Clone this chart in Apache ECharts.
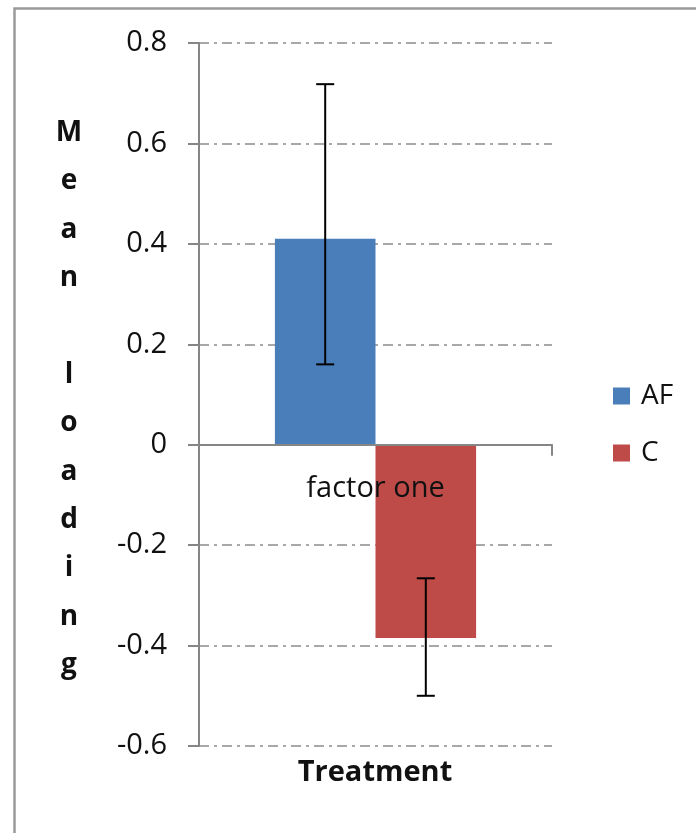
<!DOCTYPE html>
<html>
<head>
<meta charset="utf-8">
<script src="https://cdn.jsdelivr.net/npm/echarts@6/dist/echarts.min.js"></script>
<style>
html,body{margin:0;padding:0;background:#fff;}
#chart{width:696px;height:833px;}
</style>
</head>
<body>
<div id="chart"></div>
<script>
// ---- data ----
const categories = ['factor one'];
const seriesNames = ['AF', 'C'];
const afMean = [0.41];
const cMean = [-0.385];
const afLow = [0.16];
const afHigh = [0.718];
const cLow = [-0.50];
const cHigh = [-0.266];
const yMin = -0.6, yMax = 0.8, yStep = 0.2;
const xTitle = 'Treatment';
const yTitle = 'Mean loading';

const FONT = 'Open Sans';
const catGap = 0.43;

const errData = [];
categories.forEach((c, i) => {
  errData.push([i, afLow[i], afHigh[i], 0]);
  errData.push([i, cLow[i], cHigh[i], 1]);
});
const catLabelData = categories.map((c, i) => [i, 0]);

const chart = echarts.init(document.getElementById('chart'));
chart.setOption({
  animation: false,
  backgroundColor: '#fff',
  grid: { left: 199, right: 144, top: 43, bottom: 87, containLabel: false },
  legend: {
    data: seriesNames,
    orient: 'vertical',
    left: 608,
    top: 377,
    itemWidth: 17,
    itemHeight: 17,
    itemGap: 29,
    icon: 'rect',
    textStyle: { fontFamily: FONT, fontSize: 28, color: '#111', padding: [0, 0, 0, 6] }
  },
  xAxis: {
    type: 'category',
    data: categories,
    z: 5,
    axisLine: { onZero: true, lineStyle: { color: '#868686', width: 2 } },
    axisTick: { show: true, length: 11, lineStyle: { color: '#868686', width: 2 } },
    axisLabel: { show: false }
  },
  yAxis: {
    type: 'value',
    min: yMin, max: yMax, interval: yStep,
    axisLine: { show: true, lineStyle: { color: '#868686', width: 2 } },
    axisTick: { show: true, length: 11, lineStyle: { color: '#868686', width: 2 } },
    axisLabel: { margin: 32, fontFamily: FONT, fontSize: 29, color: '#111',
      formatter: v => String(Math.round(v * 10) / 10) },
    splitLine: { show: true, lineStyle: { color: '#8c8c8c', width: 1.5, type: [10, 5, 3, 5] } }
  },
  series: [
    { name: 'AF', type: 'bar', data: afMean, barGap: '0%', barCategoryGap: (catGap * 100) + '%',
      itemStyle: { color: '#4a7ebb' }, z: 2 },
    { name: 'C', type: 'bar', data: cMean, barGap: '0%', barCategoryGap: (catGap * 100) + '%',
      itemStyle: { color: '#be4b48' }, z: 2 },
    { name: 'err', type: 'custom', data: errData, z: 10,
      encode: { x: 0, y: [1, 2] },
      renderItem: function (params, api) {
        const cat = api.value(0), lo = api.value(1), hi = api.value(2), idx = api.value(3);
        const band = api.size([1, 0])[0];
        const bw = band * (1 - catGap) / 2;
        const off = idx === 0 ? -bw / 2 : bw / 2;
        const pLo = api.coord([cat, lo]);
        const pHi = api.coord([cat, hi]);
        const x = pLo[0] + off;
        const cap = 9;
        const st = { stroke: '#000', lineWidth: 2 };
        return { type: 'group', children: [
          { type: 'line', shape: { x1: x, y1: pLo[1], x2: x, y2: pHi[1] }, style: st },
          { type: 'line', shape: { x1: x - cap, y1: pLo[1], x2: x + cap, y2: pLo[1] }, style: st },
          { type: 'line', shape: { x1: x - cap, y1: pHi[1], x2: x + cap, y2: pHi[1] }, style: st }
        ]};
      }
    },
    { name: 'catLabel', type: 'custom', data: catLabelData, z: 12, silent: true,
      encode: { x: 0, y: 1 },
      renderItem: function (params, api) {
        const p = api.coord([api.value(0), api.value(1)]);
        return { type: 'text', x: p[0], y: p[1] + 44,
          style: { text: categories[params.dataIndex], fontFamily: FONT, fontSize: 29, fill: '#111',
            textAlign: 'center', textVerticalAlign: 'middle' } };
      }
    }
  ],
  graphic: [
    { type: 'rect', left: 12, top: 6, z: 100, silent: true,
      shape: { x: 0, y: 0, width: 720, height: 860 },
      style: { fill: 'none', stroke: '#9a9a9a', lineWidth: 2.5 } },
    { type: 'text', x: 375, y: 773, z: 100,
      style: { text: xTitle, fontFamily: FONT, fontSize: 29, fontWeight: 'bold', fill: '#111',
        textAlign: 'center', textVerticalAlign: 'middle' } },
    { type: 'text', x: 69, y: 399, z: 100,
      style: { text: yTitle.split('').join('\n'), fontFamily: FONT, fontSize: 28, fontWeight: 'bold',
        fill: '#111', lineHeight: 48.4, textAlign: 'center', textVerticalAlign: 'middle' } }
  ]
});
</script>
</body>
</html>
